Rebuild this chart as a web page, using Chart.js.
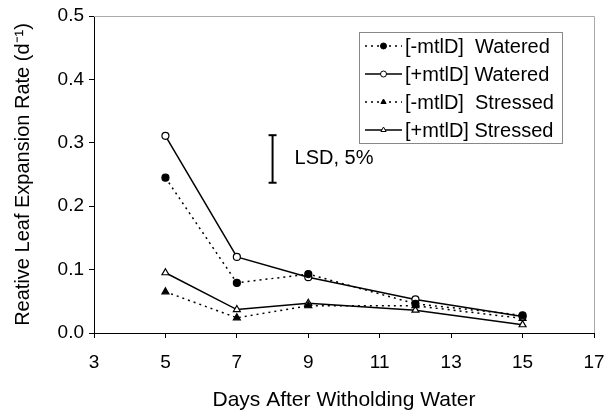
<!DOCTYPE html>
<html>
<head>
<meta charset="utf-8">
<script src="https://cdn.jsdelivr.net/npm/chart.js@4.4.0/dist/chart.umd.min.js"></script>
<style>
  html, body { margin: 0; padding: 0; background: #fff; }
  #wrap { width: 605px; height: 413px; }
</style>
</head>
<body>
<div id="wrap"><canvas id="chart" width="605" height="413"></canvas></div>
<script>
// values
const days = [5, 7, 9, 12, 15];
const minusWatered = [0.245, 0.079, 0.093, 0.046, 0.028];
const plusWatered = [0.311, 0.120, 0.088, 0.053, 0.026];
const minusStressed = [0.065, 0.024, 0.043, 0.043, 0.023];
const plusStressed = [0.095, 0.037, 0.047, 0.036, 0.013];
const seriesLabels = ['[-mtlD]  Watered', '[+mtlD] Watered', '[-mtlD]  Stressed', '[+mtlD] Stressed'];
const lsdDay = 8;
const lsdRange = [0.237, 0.312];
const lsdLabel = 'LSD, 5%';
const xTitle = 'Days After Witholding Water';
const yTitle = 'Reative Leaf Expansion Rate (d\u207B\u00B9)';

const FONT = "'Liberation Sans', Arial, sans-serif";
Chart.defaults.font.family = FONT;
Chart.defaults.color = '#000';

function pts(ys) {
  return days.map((d, i) => ({ x: d, y: ys[i] }));
}

function series(label, ys, dotted, style, filled, r) {
  return {
    label,
    data: pts(ys),
    borderColor: '#000',
    borderWidth: 1.5,
    borderDash: dotted ? [2, 4] : [],
    pointStyle: style,
    pointRadius: r,
    pointBorderWidth: 1.2,
    pointBackgroundColor: filled ? '#000' : '#fff',
    pointBorderColor: '#000',
    showLine: true,
    tension: 0,
    inLegend: true
  };
}

// frame, legend and LSD note
const extras = {
  id: 'extras',
  beforeDatasetsDraw(chart) {
    const { ctx, chartArea: a } = chart;
    ctx.save();
    ctx.strokeStyle = '#aaa';
    ctx.lineWidth = 1;
    ctx.beginPath();
    ctx.moveTo(a.left, a.top + 0.5);
    ctx.lineTo(a.right + 0.5, a.top + 0.5);
    ctx.lineTo(a.right + 0.5, a.bottom);
    ctx.stroke();
    ctx.restore();
  },
  afterDatasetsDraw(chart) {
    const { ctx, chartArea: a, scales } = chart;
    ctx.save();

    // LSD note
    const lx = scales.x.getPixelForValue(lsdDay) + 22;
    const ly = (scales.y.getPixelForValue(lsdRange[0]) + scales.y.getPixelForValue(lsdRange[1])) / 2;
    ctx.font = '20px ' + FONT;
    ctx.fillStyle = '#000';
    ctx.textBaseline = 'middle';
    ctx.fillText(lsdLabel, lx, ly);

    // legend
    const bx = a.right - 235, by = a.top + 16, bw = 203, bh = 111;
    ctx.fillStyle = '#fff';
    ctx.fillRect(bx, by, bw, bh);
    ctx.strokeStyle = '#888';
    ctx.lineWidth = 1;
    ctx.strokeRect(bx + 0.5, by + 0.5, bw, bh);

    const sets = chart.data.datasets.filter(d => d.inLegend);
    sets.forEach((ds, i) => {
      const y = by + 14 + i * 28;
      const x0 = bx + 6, x1 = bx + 43, xm = (x0 + x1) / 2;
      ctx.strokeStyle = '#000';
      ctx.lineWidth = 1.5;
      ctx.setLineDash(ds.borderDash);
      ctx.beginPath();
      ctx.moveTo(x0, y);
      ctx.lineTo(x1, y);
      ctx.stroke();
      ctx.setLineDash([]);
      ctx.fillStyle = ds.pointBackgroundColor;
      ctx.lineWidth = 1;
      Chart.helpers.drawPoint(ctx, { pointStyle: ds.pointStyle, radius: 3, rotation: 0, borderWidth: 1 }, xm, y);
      ctx.fillStyle = '#000';
      ctx.font = '20px ' + FONT;
      ctx.textBaseline = 'middle';
      ctx.fillText(ds.label, bx + 46, y + 1);
    });
    ctx.restore();
  }
};

new Chart(document.getElementById('chart'), {
  type: 'scatter',
  data: {
    datasets: [
      series(seriesLabels[0], minusWatered, true, 'circle', true, 3.5),
      series(seriesLabels[1], plusWatered, false, 'circle', false, 3.5),
      series(seriesLabels[2], minusStressed, true, 'triangle', true, 4),
      series(seriesLabels[3], plusStressed, false, 'triangle', false, 4),
      {
        label: 'LSD',
        data: lsdRange.map(v => ({ x: lsdDay, y: v })),
        borderColor: '#000',
        borderWidth: 2,
        showLine: true,
        pointStyle: 'line',
        pointRadius: 4,
        pointBorderWidth: 2,
        pointBorderColor: '#000'
      }
    ]
  },
  options: {
    responsive: false,
    animation: false,
    devicePixelRatio: 1,
    layout: { padding: { left: 0, right: 11, top: 16, bottom: 0 } },
    plugins: {
      legend: { display: false },
      tooltip: { enabled: false }
    },
    scales: {
      x: {
        type: 'linear',
        min: 3,
        max: 17,
        // fixed box so the plot lands where the original sits
        afterFit: s => { s.height = 80; s.paddingLeft = 0; s.paddingRight = 0; },
        ticks: { stepSize: 2, padding: 13, font: { size: 19 } },
        grid: { drawOnChartArea: false, tickLength: 5, color: '#000' },
        border: { color: '#000', width: 1 },
        title: { display: true, text: xTitle, font: { size: 21 }, padding: { top: 3, bottom: 0 } }
      },
      y: {
        type: 'linear',
        min: 0,
        max: 0.5,
        afterFit: s => { s.width = 94; s.paddingTop = 0; s.paddingBottom = 0; },
        ticks: { stepSize: 0.1, padding: 5, font: { size: 19 }, callback: v => v.toFixed(1) },
        grid: { drawOnChartArea: false, tickLength: 5, color: '#000' },
        border: { color: '#000', width: 1 },
        title: { display: true, text: yTitle, font: { size: 20 }, padding: { top: 11, bottom: 0 } }
      }
    }
  },
  plugins: [extras]
});
</script>
</body>
</html>
